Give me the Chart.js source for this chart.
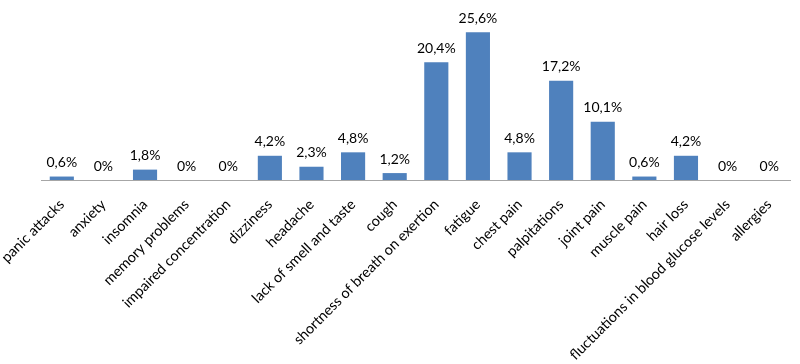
<!DOCTYPE html>
<html>
<head>
<meta charset="utf-8">
<script src="https://cdn.jsdelivr.net/npm/chart.js@4.4.1/dist/chart.umd.min.js"></script>
<style>
    html, body { margin: 0; padding: 0; background: #fff; }
    #wrap { width: 800px; height: 364px; }
</style>
</head>
<body>
<div id="wrap"><canvas id="symptomChart"></canvas></div>
<script>
// symptom categories and share of respondents (%)
const symptoms = [
    'panic attacks', 'anxiety', 'insomnia', 'memory problems', 'impaired concentration',
    'dizziness', 'headache', 'lack of smell and taste', 'cough',
    'shortness of breath on exertion', 'fatigue', 'chest pain', 'palpitations',
    'joint pain', 'muscle pain', 'hair loss', 'fluctuations in blood glucose levels', 'allergies'
];
const percentages = [0.6, 0, 1.8, 0, 0, 4.2, 2.3, 4.8, 1.2, 20.4, 25.6, 4.8, 17.2, 10.1, 0.6, 4.2, 0, 0];

// value labels above each bar, decimal comma like the original
const barLabels = {
    id: 'barLabels',
    afterDatasetsDraw(chart) {
        const ctx = chart.ctx;
        const meta = chart.getDatasetMeta(0);
        ctx.save();
        ctx.font = '14px Lato';
        ctx.fillStyle = '#000';
        ctx.textAlign = 'center';
        ctx.textBaseline = 'bottom';
        meta.data.forEach((bar, i) => {
            const txt = String(percentages[i]).replace('.', ',') + '%';
            ctx.fillText(txt, bar.x, bar.y - 7);
        });
        ctx.restore();
    }
};

new Chart(document.getElementById('symptomChart').getContext('2d'), {
    type: 'bar',
    data: {
        labels: symptoms,
        datasets: [{
            data: percentages,
            backgroundColor: '#4F81BD',
            borderWidth: 0,
            barPercentage: 0.58,
            categoryPercentage: 1
        }]
    },
    options: {
        responsive: true,
        maintainAspectRatio: false,
        animation: false,
        layout: { padding: { top: 7, right: 10, left: 0, bottom: 0 } },
        plugins: {
            legend: { display: false },
            tooltip: { enabled: false }
        },
        scales: {
            x: {
                grid: { display: false },
                border: { display: true, color: '#A6A6A6', width: 1 },
                ticks: {
                    color: '#000',
                    font: { family: 'Lato', size: 14.4 },
                    minRotation: 45,
                    maxRotation: 45,
                    autoSkip: false,
                    padding: 8
                },
                afterFit: (scale) => {
                    scale.height = 184;
                    scale.paddingLeft = 41;
                }
            },
            y: {
                display: false,
                min: 0,
                max: 30
            }
        }
    },
    plugins: [barLabels]
});
</script>
</body>
</html>
